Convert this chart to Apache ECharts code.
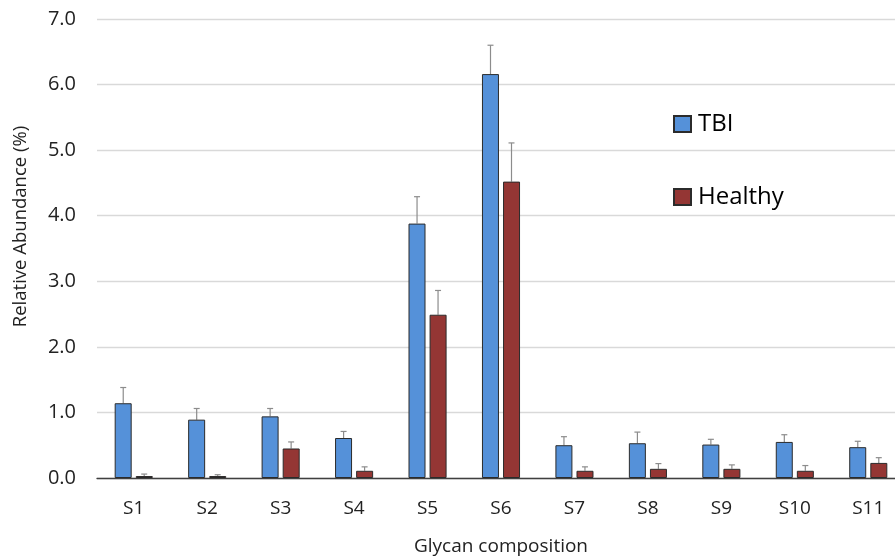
<!DOCTYPE html>
<html>
<head>
<meta charset="utf-8">
<script src="https://cdn.jsdelivr.net/npm/echarts@6.0.0/dist/echarts.min.js"></script>
<style>
  html, body { margin: 0; padding: 0; background: #fff; }
  #chart { width: 895px; height: 557px; }
</style>
</head>
<body>
<div id="chart"></div>
<script>
const categories = ["S1", "S2", "S3", "S4", "S5", "S6", "S7", "S8", "S9", "S10", "S11"];
const tbiValues = [1.14, 0.89, 0.94, 0.61, 3.88, 6.16, 0.50, 0.53, 0.51, 0.55, 0.47];
const tbiErrors = [0.24, 0.17, 0.12, 0.10, 0.41, 0.44, 0.13, 0.17, 0.08, 0.11, 0.09];
const healthyValues = [0.03, 0.03, 0.45, 0.11, 2.49, 4.52, 0.11, 0.14, 0.14, 0.11, 0.23];
const healthyErrors = [0.03, 0.02, 0.10, 0.06, 0.37, 0.59, 0.06, 0.08, 0.06, 0.08, 0.08];
const yTicks = [0, 1, 2, 3, 4, 5, 6, 7];

const fontFamily = "'Open Sans', Lato, sans-serif";
const barWidth = 17;
const barOffset = 10.5;

// error bar series: draws a whisker above each bar
const errorSeries = (values, errors, offset) => ({
    type: "custom",
    data: values.map((v, i) => [i, v, v + errors[i]]),
    z: 1,
    silent: true,
    renderItem: (params, api) => {
        const base = api.coord([api.value(0), api.value(1)]);
        const top = api.coord([api.value(0), api.value(2)]);
        const x = base[0] + offset;
        const style = { stroke: "#8c8c8c", lineWidth: 1.2 };
        return {
            type: "group",
            children: [
                { type: "line", shape: { x1: x, y1: base[1], x2: x, y2: top[1] }, style },
                { type: "line", shape: { x1: x - 3, y1: top[1], x2: x + 3, y2: top[1] }, style }
            ]
        };
    }
});

const chart = echarts.init(document.getElementById("chart"));
chart.setOption({
    animation: false,
    backgroundColor: "#fff",
    grid: { left: 97, right: -10, top: 19, bottom: 79, outerBoundsMode: "none", containLabel: false },
    legend: {
        orient: "vertical",
        left: 668,
        top: 107,
        itemWidth: 17,
        itemHeight: 16,
        itemGap: 49,
        icon: "rect",
        textStyle: { fontFamily, fontSize: 24, color: "#000", padding: [0, 0, 0, 2] },
        data: ["TBI", "Healthy"]
    },
    xAxis: {
        type: "category",
        data: categories,
        name: "Glycan composition",
        nameLocation: "middle",
        nameGap: 59,
        nameTextStyle: { fontFamily, fontSize: 19, color: "#222" },
        axisLine: { lineStyle: { color: "#404040", width: 1.3 } },
        axisTick: { show: false },
        axisLabel: { fontFamily, fontSize: 19, color: "#222", margin: 21 }
    },
    yAxis: {
        type: "value",
        min: yTicks[0],
        max: yTicks[yTicks.length - 1],
        interval: 1,
        name: "Relative Abundance (%)",
        nameLocation: "middle",
        nameGap: 67,
        nameTextStyle: { fontFamily, fontSize: 18.5, color: "#222", padding: [0, 0, 0, 44] },
        axisLine: { show: false },
        axisTick: { show: false },
        axisLabel: { fontFamily, fontSize: 20, color: "#222", margin: 21, formatter: v => v.toFixed(1) },
        splitLine: { lineStyle: { color: "#d9d9d9", width: 1.3 } }
    },
    series: [
        {
            name: "TBI",
            type: "bar",
            data: tbiValues,
            barWidth,
            barGap: "24%",
            z: 2,
            itemStyle: { color: "#5591d9", borderColor: "#2b2b2b", borderWidth: 1 }
        },
        {
            name: "Healthy",
            type: "bar",
            data: healthyValues,
            barWidth,
            z: 2,
            itemStyle: { color: "#943634", borderColor: "#2b2b2b", borderWidth: 1 }
        },
        errorSeries(tbiValues, tbiErrors, -barOffset),
        errorSeries(healthyValues, healthyErrors, barOffset)
    ]
});
</script>
</body>
</html>
